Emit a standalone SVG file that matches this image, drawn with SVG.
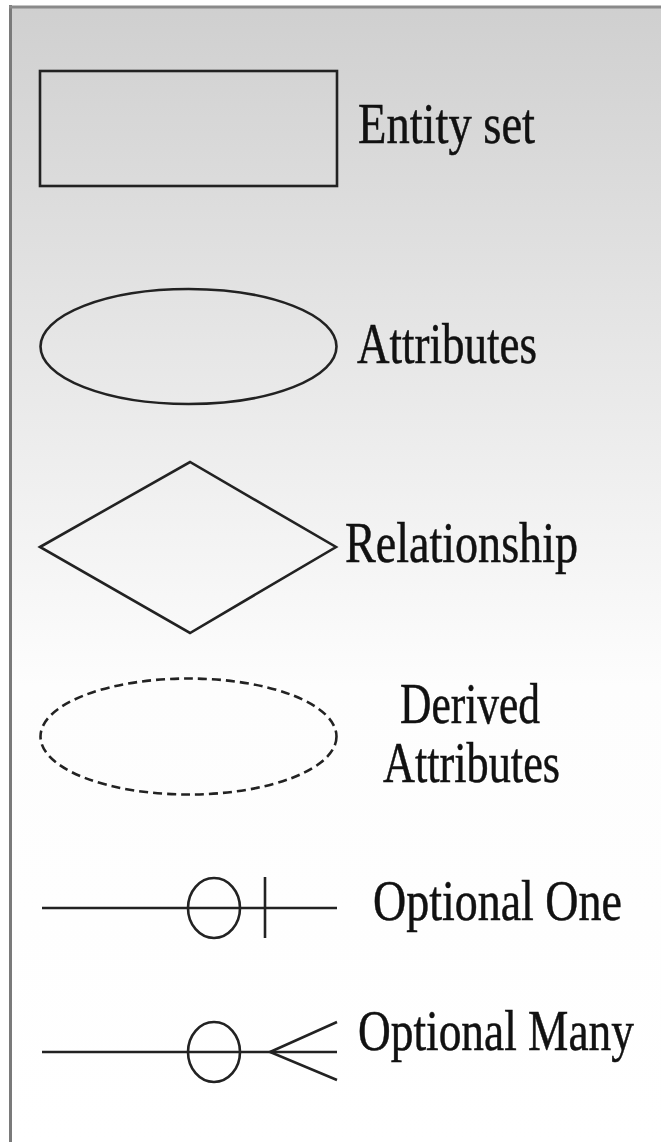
<svg xmlns="http://www.w3.org/2000/svg" width="661" height="1142" viewBox="0 0 661 1142">
<style>
.s{fill:none;stroke:#222;stroke-width:2.6}
.t{font-family:"Liberation Serif","Times New Roman",serif;font-size:56px;fill:#111;stroke:#111;stroke-width:0.5}
</style>
<defs>
<linearGradient id="bg" x1="0" y1="0" x2="0" y2="1142" gradientUnits="userSpaceOnUse">
<stop offset="0" stop-color="#cfcfcf"/>
<stop offset="0.6" stop-color="#fdfdfd"/>
<stop offset="1" stop-color="#ffffff"/>
</linearGradient>
</defs>
<rect x="0" y="0" width="661" height="1142" fill="#fff"/>
<rect x="10" y="7" width="651" height="1135" fill="url(#bg)"/>
<line x1="10.5" y1="5" x2="10.5" y2="1142" stroke="#7a7a7a" stroke-width="3"/>
<line x1="9" y1="7" x2="661" y2="7" stroke="#8a8a8a" stroke-width="3"/>
<g id="entity">
<rect class="s" x="40" y="71" width="297" height="115"/>
<text class="t" x="358" y="143" textLength="177" lengthAdjust="spacingAndGlyphs">Entity set</text>
</g>
<g id="attributes">
<ellipse class="s" cx="188.5" cy="346.5" rx="148" ry="57.5"/>
<text class="t" x="357" y="363" textLength="180" lengthAdjust="spacingAndGlyphs">Attributes</text>
</g>
<g id="relationship">
<polygon class="s" points="40,547 190,462 336,547 190,633"/>
<text class="t" x="345" y="562" textLength="233" lengthAdjust="spacingAndGlyphs">Relationship</text>
</g>
<g id="derived">
<ellipse class="s" cx="188.5" cy="736.5" rx="148" ry="58" stroke-dasharray="9 5"/>
<text class="t" x="400" y="723" font-size="52" textLength="140" lengthAdjust="spacingAndGlyphs">Derived</text>
<text class="t" x="383" y="782" font-size="52" textLength="177" lengthAdjust="spacingAndGlyphs">Attributes</text>
</g>
<g id="connectors">
<g id="optional-one">
<line class="s" x1="42" y1="908" x2="337" y2="908"/>
<ellipse class="s" cx="214" cy="908" rx="26" ry="30"/>
<line class="s" x1="265" y1="877" x2="265" y2="938"/>
</g>
<g id="optional-many">
<line class="s" x1="42" y1="1052" x2="337" y2="1052"/>
<ellipse class="s" cx="214" cy="1052" rx="26" ry="30"/>
<polyline class="s" points="337,1022 270,1052 337,1080"/>
</g>
</g>
<g id="label-optional-one">
<text class="t" transform="scale(0.825,1)" x="452.1" y="920" textLength="301.8" lengthAdjust="spacingAndGlyphs">Optional One</text>
</g>
<g id="label-optional-many">
<text class="t" transform="scale(0.81,1)" x="442" y="1050" textLength="340.7" lengthAdjust="spacingAndGlyphs">Optional Many</text>
</g>
</svg>
